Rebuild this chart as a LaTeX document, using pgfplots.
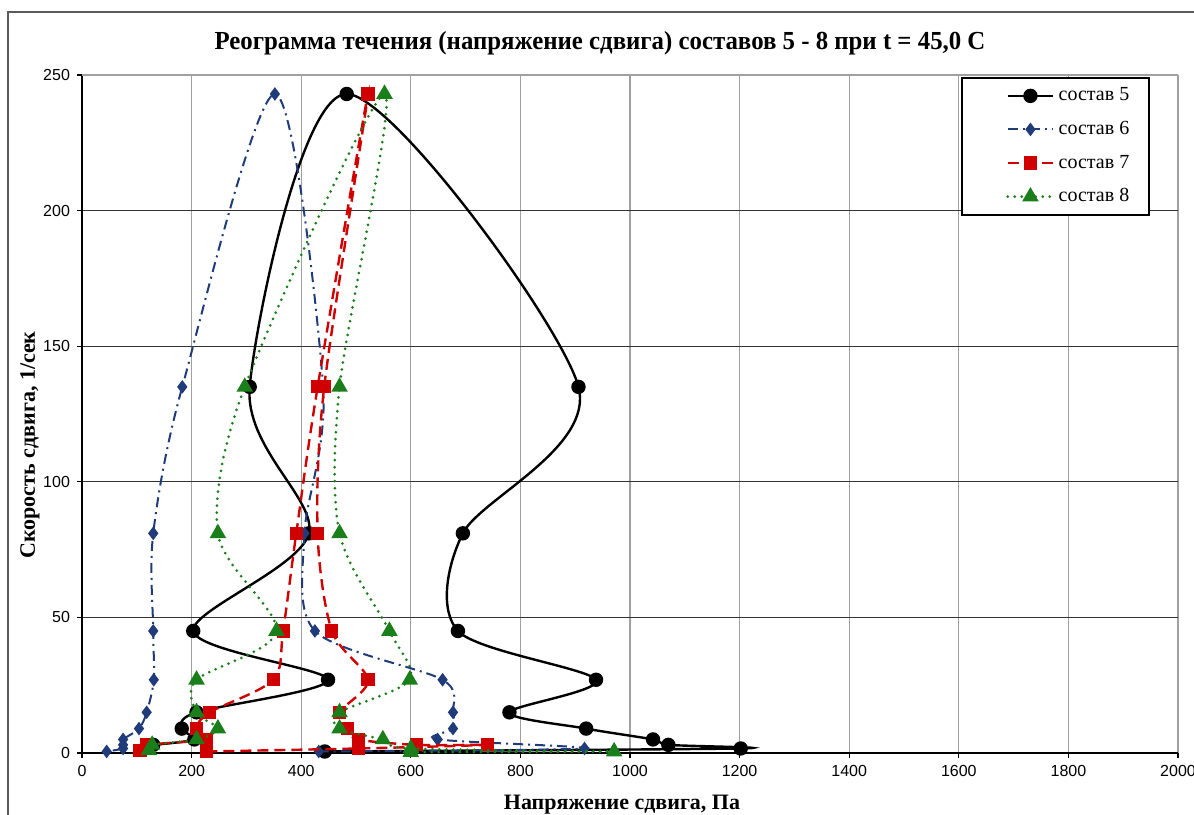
\documentclass[border=0pt]{standalone}
\usepackage{pgfplots}
\pgfplotsset{compat=1.18}
\usepackage{fontspec}
\setmainfont{Liberation Serif}
\newfontfamily\ticksfont{Liberation Sans}

\definecolor{s6blue}{HTML}{1F3B7A}
\definecolor{s7red}{HTML}{D00000}
\definecolor{s8green}{HTML}{1A7F1A}
\definecolor{ygrid}{HTML}{333333}
\definecolor{xgrid}{HTML}{A0A0A0}
\definecolor{frame}{HTML}{5A5A5A}

% Shear stress (Pa) against shear rate (1/s); each composition is measured
% on the way up to 243 1/s and back down again.
\pgfplotstableread{
x y
443 0.556
1202 1.667
1070 3
1042 5
920 9
780 15
938 27
686 45
695 81
906 135
483 243
306 135
414 81
203 45
449 27
209 15
182 9
205 5
130 3
}\sostavfive

\pgfplotstableread{
x y
432 0.556
917 1.667
649 5
677 9
677 15
658 27
425 45
406 81
440 135
352 243
183 135
130 81
130 45
131 27
118 15
104 9
75 5
75 3
75 1.667
45 0.556
}\sostavsix

\pgfplotstableread{
x y
227 0.556
504 1.667
740 3
610 3
504 5
485 9
470 15
522 27
456 45
430 81
442 135
522 243
430 135
391 81
367 45
349 27
233 15
209 9
227 5
118 3
106 1
}\sostavseven

\pgfplotstableread{
x y
600 0.333
971 0.556
600 1.667
549 5
470 9
470 15
598 27
561 45
470 81
470 135
552 243
297 135
248 81
355 45
209 27
209 15
248 9
209 5
128 3
122 1
}\sostaveight

% legend text with a tighter right margin than the left one
\newcommand{\legtext}[1]{#1\hspace*{-14pt}\hbox{}}

\begin{document}
\begin{tikzpicture}
\begin{axis}[
  name=ax, at={(0,0)}, anchor=south west,
  scale only axis, width=548pt, height=339pt,
  xmin=0, xmax=2000, ymin=0, ymax=250,
  xtick={0,200,...,2000}, ytick={0,50,...,250},
  axis lines=left, axis line style={-, black, line width=0.8pt},
  tick align=outside, major tick length=2.5pt,
  tick style={black, line width=0.6pt},
  xmajorgrids, ymajorgrids,
  x grid style={xgrid, line width=0.6pt},
  y grid style={ygrid, line width=0.6pt},
  ticklabel style={font=\ticksfont\fontsize{8}{9}\selectfont},
  /pgf/number format/assume math mode=true,
  /pgf/number format/1000 sep={},
  clip mode=individual,
  legend style={at={(0.9745,0.997)}, anchor=north east, draw=black,
    line width=0.8pt, fill=white, font=\fontsize{10}{12}\selectfont,
    row sep=4.7pt, inner ysep=3pt, inner xsep=22pt},
  legend cell align=left,
  legend image code/.code={%
    \draw[mark repeat=2,mark phase=2,#1] plot coordinates {(0cm,0cm) (0.4cm,0cm) (0.8cm,0cm)};},
]
\addplot[black, line width=1.2pt, smooth, mark=*, mark size=3pt,
  mark options={solid}] table {\sostavfive};
\addlegendentry{\legtext{состав 5}}
\addplot[s6blue, line width=1pt, smooth,
  dash pattern=on 5pt off 2.5pt on 1pt off 2.5pt,
  mark=diamond*, mark size=2.6pt, mark options={solid}] table {\sostavsix};
\addlegendentry{\legtext{состав 6}}
\addplot[s7red, line width=1.2pt, smooth, dash pattern=on 5.5pt off 3pt,
  mark=square*, mark size=2.7pt, mark options={solid}] table {\sostavseven};
\addlegendentry{\legtext{состав 7}}
\addplot[s8green, line width=1.5pt, smooth, line cap=round,
  dash pattern=on 0pt off 3.5pt,
  mark=triangle*, mark size=3.3pt, mark options={solid}] table {\sostaveight};
\addlegendentry{\legtext{состав 8}}
\end{axis}
% top edge of the plot area is a light rule, like the vertical grid
\draw[xgrid, line width=0.7pt] (ax.north west) -- (ax.north east);
% outer chart frame
\draw[frame, line width=1pt] (-37pt,-40pt) -- (-37pt,370.5pt) -- (560pt,370.5pt);
\node[font=\bfseries\fontsize{13}{15}\selectfont] at (259pt,355pt)
  {\scalebox{0.955}[1]{Реограмма течения (напряжение сдвига) составов 5 - 8 при t = 45,0 С}};
\node[font=\bfseries\fontsize{11}{13}\selectfont] at (270pt,-26pt)
  {Напряжение сдвига, Па};
\node[font=\bfseries\fontsize{11}{13}\selectfont, rotate=90] at (-26pt,154pt)
  {Скорость сдвига, 1/сек};
\pgfresetboundingbox
\path[use as bounding box] (-41pt,-30.5pt) rectangle (556pt,376.5pt);
\end{tikzpicture}
\end{document}
